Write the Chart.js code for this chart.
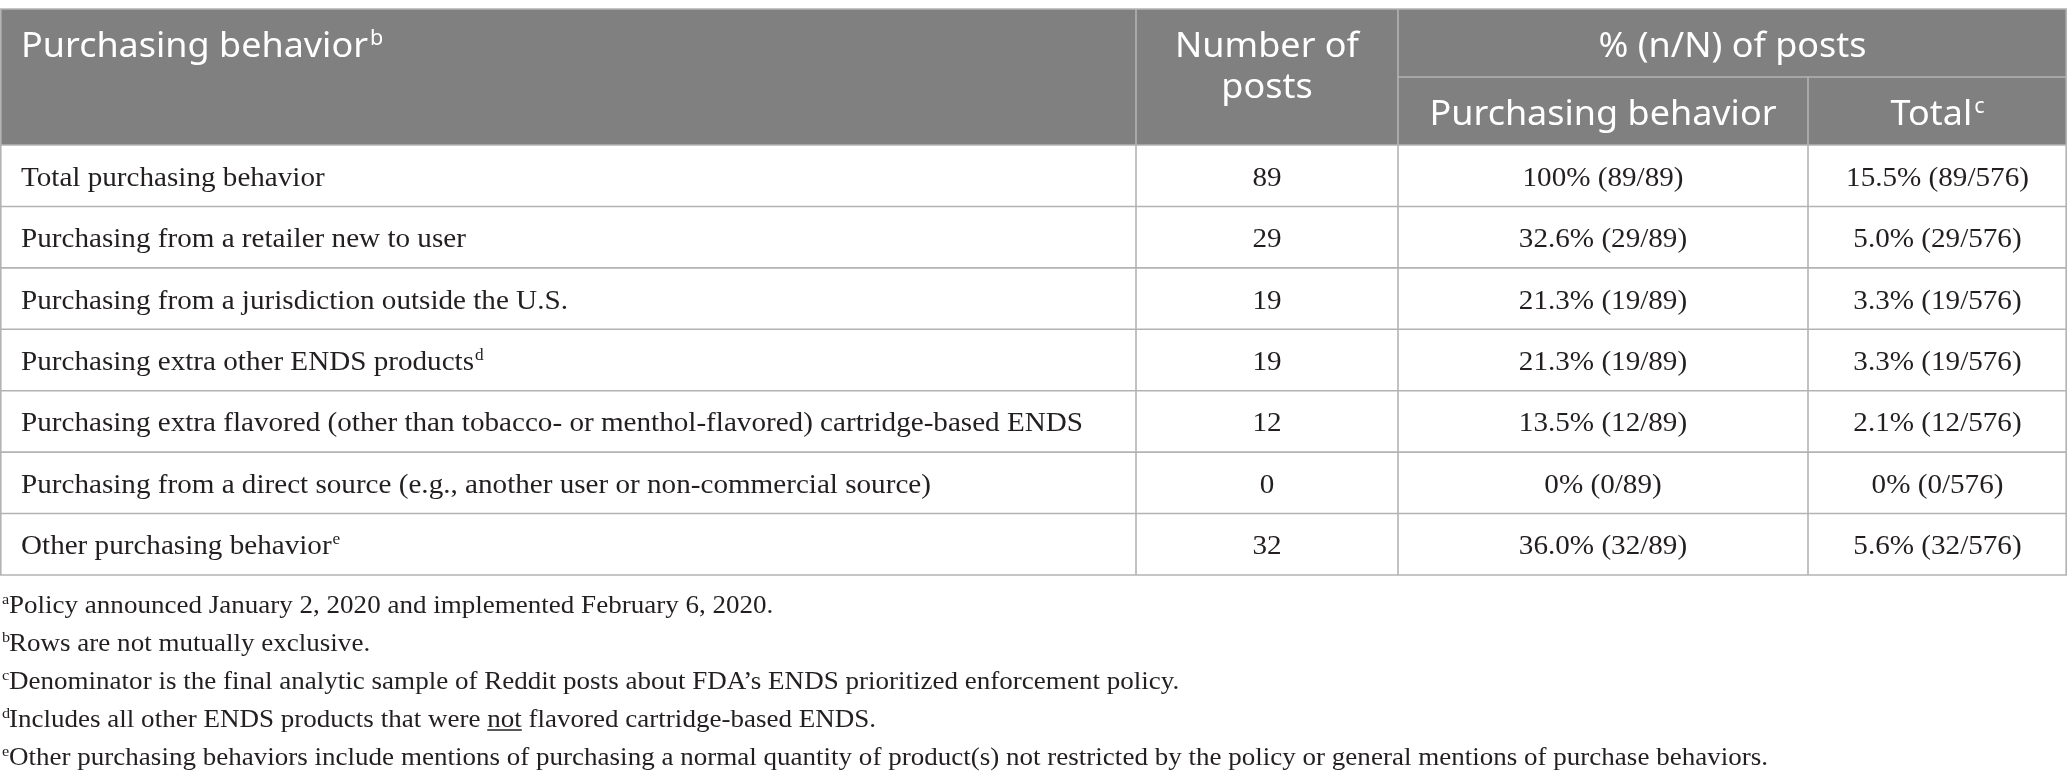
<!DOCTYPE html>
<html>
<head>
<meta charset="utf-8">
<script src="https://cdn.jsdelivr.net/npm/chart.js@4.4.1/dist/chart.umd.min.js"></script>
<style>
html,body{margin:0;padding:0;background:#ffffff;overflow:hidden}
#wrap{width:2067px;height:781px;position:relative}
canvas{display:block}
</style>
</head>
<body>
<div id="wrap"><canvas id="c" width="2067" height="781"></canvas></div>
<script>
// ---------- DATA ----------
const rowLabels = [
  'Total purchasing behavior',
  'Purchasing from a retailer new to user',
  'Purchasing from a jurisdiction outside the U.S.',
  'Purchasing extra other ENDS products',
  'Purchasing extra flavored (other than tobacco- or menthol-flavored) cartridge-based ENDS',
  'Purchasing from a direct source (e.g., another user or non-commercial source)',
  'Other purchasing behavior'
];
const rowNotes = ['', '', '', 'd', '', '', 'e'];
const postCounts = [89, 29, 19, 19, 12, 0, 32];
const pctOfBehavior = [100, 32.6, 21.3, 21.3, 13.5, 0, 36.0];
const pctOfTotal = [15.5, 5.0, 3.3, 3.3, 2.1, 0, 5.6];
const behaviorDenominator = 89;
const totalDenominator = 576;

const headerFirst = 'Purchasing behavior';
const headerFirstNote = 'b';
const headerCount = ['Number of', 'posts'];
const headerGroup = '% (n/N) of posts';
const headerSub = ['Purchasing behavior', 'Total'];
const headerSubNotes = ['', 'c'];

const footnoteMarks = ['a', 'b', 'c', 'd', 'e'];
const footnoteTexts = [
  [['Policy announced January 2, 2020 and implemented February 6, 2020.', false]],
  [['Rows are not mutually exclusive.', false]],
  [['Denominator is the final analytic sample of Reddit posts about FDA\u2019s ENDS prioritized enforcement policy.', false]],
  [['Includes all other ENDS products that were ', false], ['not', true], [' flavored cartridge-based ENDS.', false]],
  [['Other purchasing behaviors include mentions of purchasing a normal quantity of product(s) not restricted by the policy or general mentions of purchase behaviors.', false]]
];

// ---------- LAYOUT / STYLE ----------
const TABLE_W = 2067;
const COL_EDGES = [0, 1136, 1398, 1808, 2067];
const HEAD_H = 136;
const HEAD_BG = '#808080';
const LINE = '#b3b3b3';
const TEXT = '#231f20';
const SERIF = '"Liberation Serif", "Times New Roman", serif';
const SANS = '"Noto Sans", "Open Sans", sans-serif';

function fmtPct(v) {
  return (v === 0 || v === 100) ? v + '%' : v.toFixed(1) + '%';
}

function stretchText(ctx, text, x, y, sx, align) {
  const w = ctx.measureText(text).width * sx;
  let left = x;
  if (align === 'center') left = x - w / 2;
  else if (align === 'right') left = x - w;
  ctx.save();
  ctx.translate(left, y);
  ctx.scale(sx, 1);
  ctx.textAlign = 'left';
  ctx.fillText(text, 0, 0);
  ctx.restore();
  return w;
}

const tablePlugin = {
  id: 'tablePlugin',
  afterDraw(chart) {
    const ctx = chart.ctx;
    const xs = chart.scales.x, ys = chart.scales.y;
    const X = v => xs.getPixelForValue(v);
    const n = rowLabels.length;
    const rowH = Math.abs(ys.getPixelForValue(1) - ys.getPixelForValue(0));
    const rowTop = i => ys.getPixelForValue(i) - rowH / 2;
    const rowMid = i => ys.getPixelForValue(i);
    const tableTop = rowTop(0);
    const tableBot = rowTop(n - 1) + rowH;
    const headTop = tableTop - HEAD_H;
    const headMid = headTop + HEAD_H / 2;
    const L = X(COL_EDGES[0]), R = X(COL_EDGES[4]);
    const colCenter = k => (X(COL_EDGES[k]) + X(COL_EDGES[k + 1])) / 2;

    ctx.save();
    ctx.textBaseline = 'alphabetic';

    // header background
    ctx.fillStyle = HEAD_BG;
    ctx.fillRect(L, headTop, R - L, HEAD_H);

    // grid lines
    ctx.strokeStyle = LINE;
    ctx.lineWidth = 1.6;
    const hline = (y, x0, x1) => { ctx.beginPath(); ctx.moveTo(x0, y); ctx.lineTo(x1, y); ctx.stroke(); };
    const vline = (x, y0, y1) => { ctx.beginPath(); ctx.moveTo(x, y0); ctx.lineTo(x, y1); ctx.stroke(); };
    hline(headTop, L, R);
    hline(headMid, X(COL_EDGES[2]), R);
    for (let i = 0; i <= n; i++) hline(tableTop + i * rowH, L, R);
    vline(L + 0.8, headTop, tableBot);
    vline(R - 0.8, headTop, tableBot);
    vline(X(COL_EDGES[1]), headTop, tableBot);
    vline(X(COL_EDGES[2]), headTop, tableBot);
    vline(X(COL_EDGES[3]), headMid, tableBot);

    // header text
    ctx.fillStyle = '#ffffff';
    ctx.font = '35px ' + SANS;
    const sxHead = 347 / ctx.measureText(headerSub[0]).width;
    const hb1 = headTop + 48, hb2 = headTop + 116;
    let w = stretchText(ctx, headerFirst, L + 21, hb1, sxHead, 'left');
    ctx.font = '21px ' + SANS;
    stretchText(ctx, headerFirstNote, L + 21 + w + 2, hb1 - 12, sxHead, 'left');
    ctx.font = '35px ' + SANS;
    stretchText(ctx, headerCount[0], colCenter(1), hb1, sxHead, 'center');
    stretchText(ctx, headerCount[1], colCenter(1), hb1 + 41, sxHead, 'center');
    stretchText(ctx, headerGroup, (X(COL_EDGES[2]) + R) / 2, hb1, sxHead, 'center');
    for (let k = 0; k < 2; k++) {
      ctx.font = '35px ' + SANS;
      const main = ctx.measureText(headerSub[k]).width * sxHead;
      ctx.font = '21px ' + SANS;
      const sup = headerSubNotes[k] ? ctx.measureText(headerSubNotes[k]).width * sxHead + 2 : 0;
      const left = colCenter(k + 2) - (main + sup) / 2;
      ctx.font = '35px ' + SANS;
      stretchText(ctx, headerSub[k], left, hb2, sxHead, 'left');
      if (headerSubNotes[k]) {
        ctx.font = '21px ' + SANS;
        stretchText(ctx, headerSubNotes[k], left + main + 2, hb2 - 12, sxHead, 'left');
      }
    }

    // body text
    ctx.fillStyle = TEXT;
    ctx.font = '27px ' + SERIF;
    const sxBody = 1062 / ctx.measureText(rowLabels[4]).width;
    for (let i = 0; i < n; i++) {
      const by = rowMid(i) + 10;
      ctx.font = '27px ' + SERIF;
      const lw = stretchText(ctx, rowLabels[i], L + 21, by, sxBody, 'left');
      if (rowNotes[i]) {
        ctx.font = '16px ' + SERIF;
        stretchText(ctx, rowNotes[i], L + 21 + lw + 1, by - 10, sxBody, 'left');
        ctx.font = '27px ' + SERIF;
      }
      stretchText(ctx, String(postCounts[i]), colCenter(1), by, sxBody, 'center');
      stretchText(ctx, fmtPct(pctOfBehavior[i]) + ' (' + postCounts[i] + '/' + behaviorDenominator + ')', colCenter(2), by, sxBody, 'center');
      stretchText(ctx, fmtPct(pctOfTotal[i]) + ' (' + postCounts[i] + '/' + totalDenominator + ')', colCenter(3), by, sxBody, 'center');
    }

    // footnotes
    ctx.font = '25px ' + SERIF;
    const lastFoot = footnoteTexts[footnoteTexts.length - 1].map(s => s[0]).join('');
    const sxFoot = 1759 / ctx.measureText(lastFoot).width;
    for (let f = 0; f < footnoteMarks.length; f++) {
      const by = tableBot + 38 + f * 38;
      ctx.font = '15px ' + SERIF;
      stretchText(ctx, footnoteMarks[f], L + 2, by - 9, sxFoot, 'left');
      let x = L + 9;
      ctx.font = '25px ' + SERIF;
      for (const [seg, under] of footnoteTexts[f]) {
        const sw = stretchText(ctx, seg, x, by, sxFoot, 'left');
        if (under) {
          ctx.strokeStyle = TEXT;
          ctx.lineWidth = 1.3;
          hline(by + 3, x, x + sw);
        }
        x += sw;
      }
    }
    ctx.restore();
  }
};

new Chart(document.getElementById('c'), {
  type: 'bar',
  data: { labels: rowLabels, datasets: [] },
  options: {
    responsive: false,
    animation: false,
    devicePixelRatio: 1,
    indexAxis: 'y',
    events: [],
    layout: { padding: { top: 145, bottom: 206, left: 0, right: 0 } },
    scales: {
      x: { type: 'linear', min: 0, max: TABLE_W, display: false },
      y: { type: 'category', display: false, offset: true }
    },
    plugins: { legend: { display: false }, tooltip: { enabled: false }, title: { display: false } }
  },
  plugins: [tablePlugin]
});
</script>
</body>
</html>
